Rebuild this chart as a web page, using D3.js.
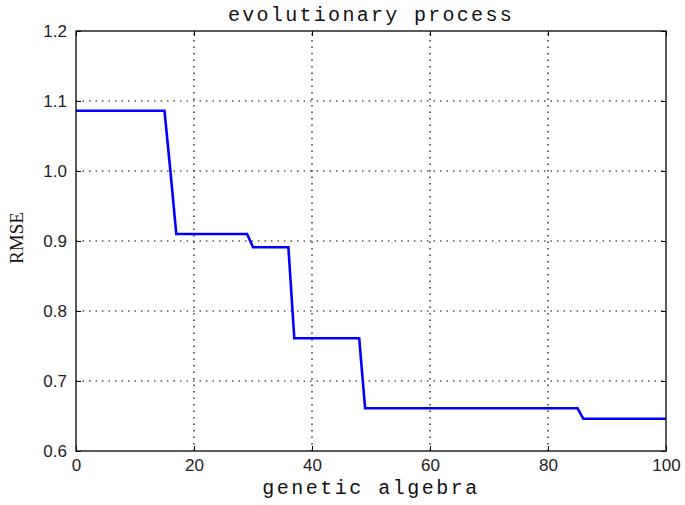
<!DOCTYPE html>
<html><head><meta charset="utf-8">
<script src="https://cdn.jsdelivr.net/npm/d3@7"></script>
<style>body{margin:0;background:#fff}</style>
</head><body>
<script>
// data: generation -> RMSE
const generations = [0, 15, 16, 17, 29, 30, 36, 37, 48, 49, 85, 86, 100];
const rmse = [1.086, 1.086, 1.0, 0.910, 0.910, 0.891, 0.891, 0.761, 0.761, 0.661, 0.661, 0.646, 0.646];
const xTicks = [0, 20, 40, 60, 80, 100];
const yTicks = [0.6, 0.7, 0.8, 0.9, 1.0, 1.1, 1.2];
const yTickLabels = ["0.6", "0.7", "0.8", "0.9", "1.0", "1.1", "1.2"];

const W = 685, H = 505;
const m = {left: 76, right: 19, top: 31, bottom: 54};
const svg = d3.select("body").append("svg").attr("width", W).attr("height", H);
const x = d3.scaleLinear().domain([0, 100]).range([m.left, W - m.right]);
const y = d3.scaleLinear().domain([0.6, 1.2]).range([H - m.bottom, m.top]);

// grid
const g = svg.append("g");
g.selectAll(".gx").data(xTicks.slice(1, -1)).enter().append("line")
  .attr("x1", d => x(d)).attr("x2", d => x(d)).attr("y1", y(0.6)).attr("y2", y(1.2))
  .attr("stroke", "#000").attr("stroke-width", 1.2).attr("stroke-dasharray", "1.5,5");
g.selectAll(".gy").data(yTicks.slice(1, -1)).enter().append("line")
  .attr("y1", d => y(d)).attr("y2", d => y(d)).attr("x1", x(0)).attr("x2", x(100))
  .attr("stroke", "#000").attr("stroke-width", 1.2).attr("stroke-dasharray", "1.5,5");

// line
const line = d3.line().x((d, i) => x(generations[i])).y(d => y(d));
svg.append("path").datum(rmse).attr("d", line)
  .attr("fill", "none").attr("stroke", "#0000ff").attr("stroke-width", 2.6);

// box
svg.append("rect").attr("x", x(0)).attr("y", y(1.2)).attr("width", x(100) - x(0)).attr("height", y(0.6) - y(1.2))
  .attr("fill", "none").attr("stroke", "#000").attr("stroke-width", 1.3);

// axes (ticks inward)
const xa = svg.append("g").attr("transform", `translate(0,${y(0.6)})`)
  .call(d3.axisBottom(x).tickValues(xTicks).tickSize(-5).tickPadding(8).tickFormat(d3.format("d")));
xa.select(".domain").remove();
const ya = svg.append("g").attr("transform", `translate(${x(0)},0)`)
  .call(d3.axisLeft(y).tickValues(yTicks).tickSize(-5).tickPadding(9).tickFormat((d, i) => yTickLabels[i]));
ya.select(".domain").remove();
const xt = svg.append("g").attr("transform", `translate(0,${y(1.2)})`)
  .call(d3.axisTop(x).tickValues(xTicks).tickSize(-5).tickFormat(""));
xt.select(".domain").remove();
const yr = svg.append("g").attr("transform", `translate(${x(100)},0)`)
  .call(d3.axisRight(y).tickValues(yTicks).tickSize(-5).tickFormat(""));
yr.select(".domain").remove();
svg.selectAll(".tick text").attr("font-family", "Liberation Sans Narrow, Liberation Sans, Arial, sans-serif").attr("font-size", 17).attr("fill", "#222");
svg.selectAll(".tick line").attr("stroke", "#000");

// titles
svg.append("text").attr("x", (x(0) + x(100)) / 2).attr("y", 21).attr("text-anchor", "middle")
  .attr("font-family", "Liberation Mono, monospace").attr("font-size", 20).attr("letter-spacing", 2.3)
  .attr("fill", "#111").text("evolutionary process");
svg.append("text").attr("x", (x(0) + x(100)) / 2).attr("y", 494).attr("text-anchor", "middle")
  .attr("font-family", "Liberation Mono, monospace").attr("font-size", 20).attr("letter-spacing", 2.5)
  .attr("fill", "#111").text("genetic algebra");
svg.append("text").attr("transform", "translate(23,238) rotate(-90)").attr("text-anchor", "middle")
  .attr("font-family", "Liberation Serif, serif").attr("font-size", 19)
  .attr("fill", "#111").text("RMSE");
</script>
</body></html>
